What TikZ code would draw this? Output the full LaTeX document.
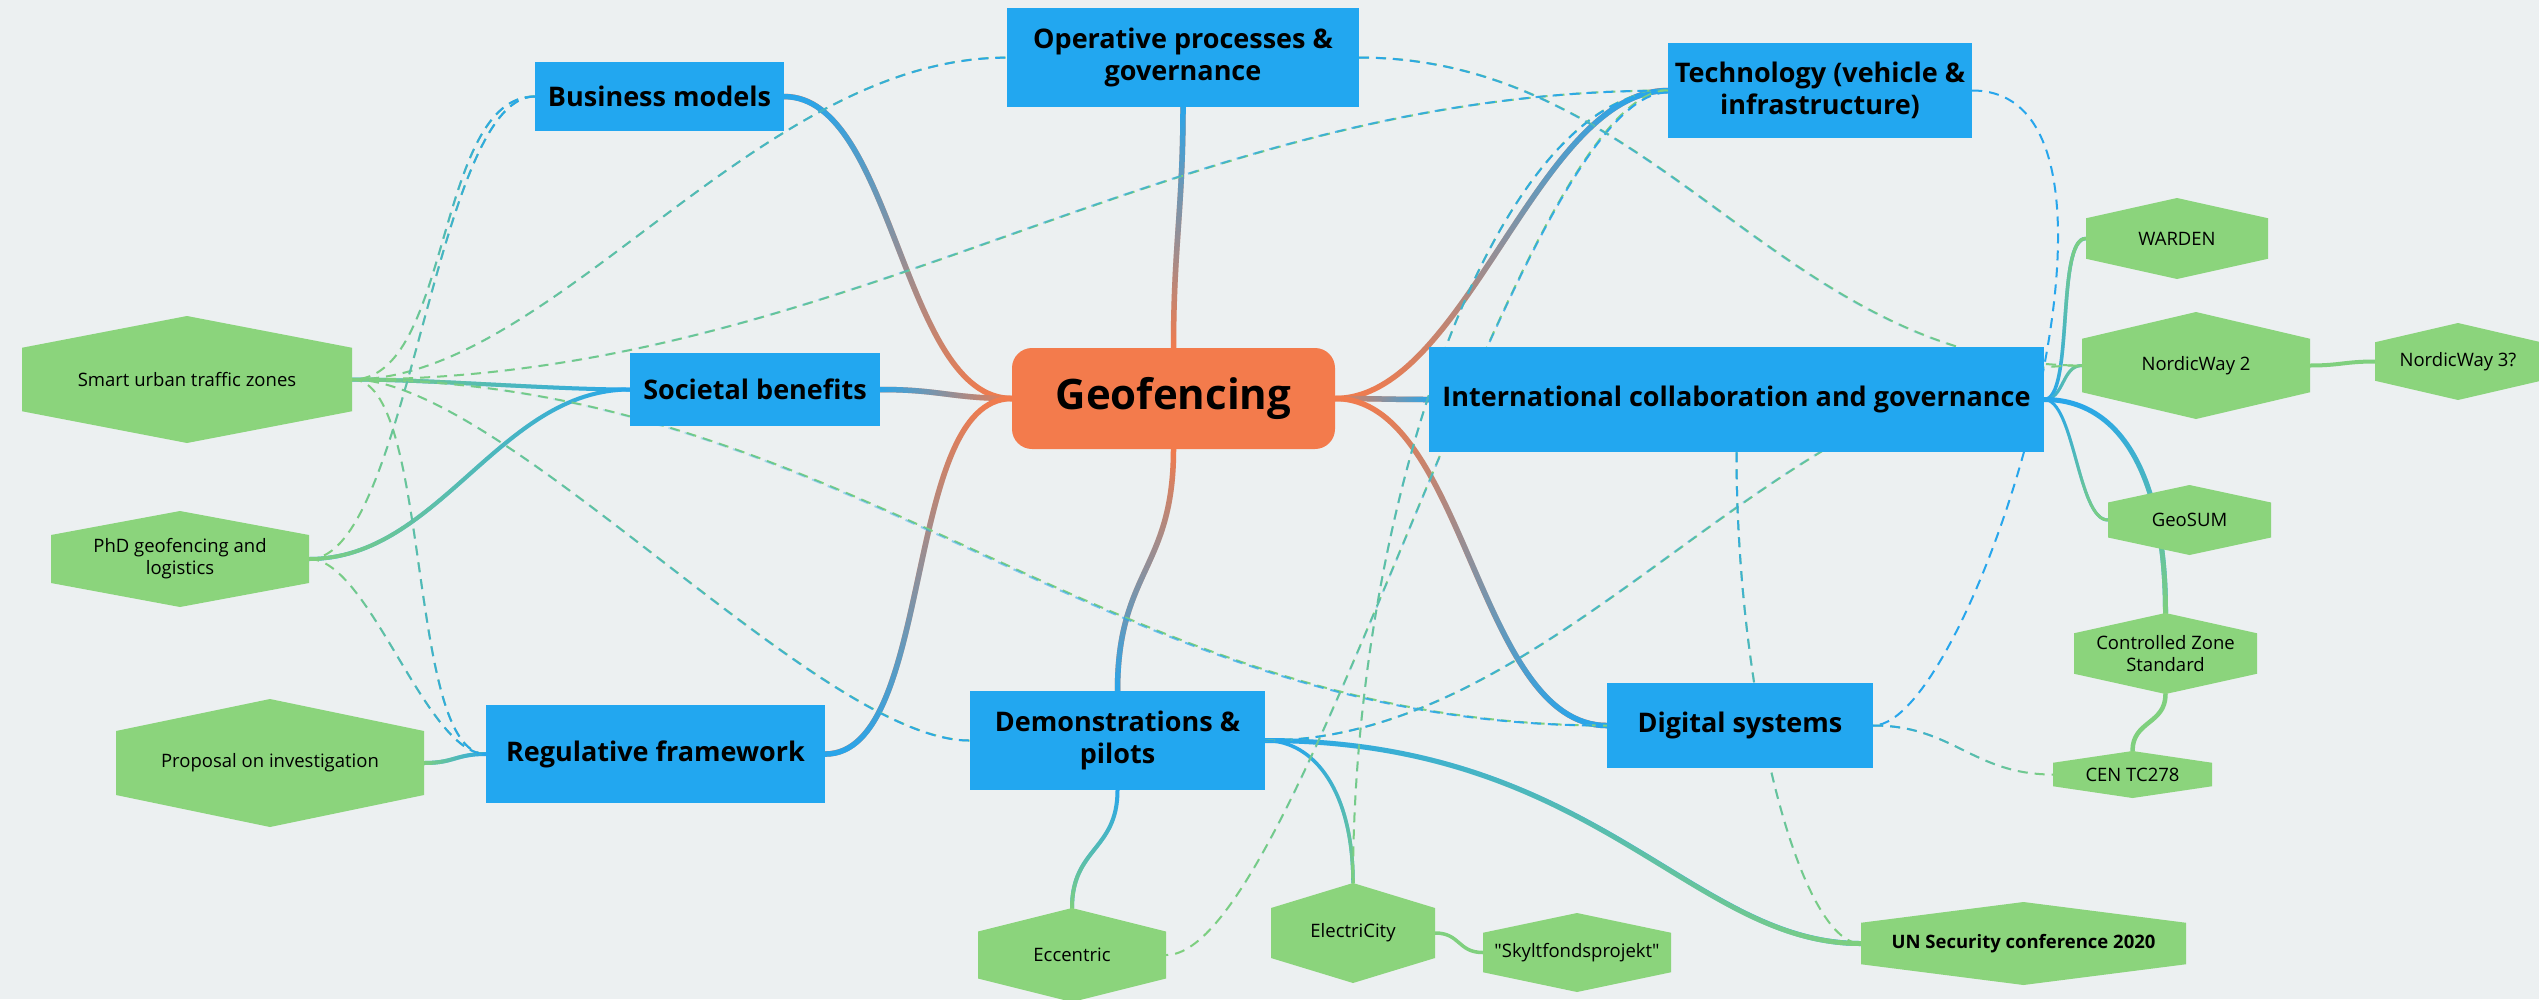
\documentclass[tikz,border=0pt]{standalone}
\usepackage{fontspec}
\setmainfont{Open Sans}
\usetikzlibrary{fadings}

\definecolor{bgc}{HTML}{ECF0F1}
\definecolor{topicblue}{HTML}{22A7F0}
\definecolor{rootorange}{HTML}{F37B4C}
\definecolor{hexgreen}{HTML}{8BD47C}
\definecolor{lineblue}{HTML}{27A6EC}
\definecolor{linegreen}{HTML}{7FD07E}

\tikzfading[name=fadeE, left color=transparent!100, right color=transparent!0]
\tikzfading[name=fadeW, left color=transparent!0, right color=transparent!100]
\tikzfading[name=fadeN, top color=transparent!0, bottom color=transparent!100]
\tikzfading[name=fadeS, top color=transparent!100, bottom color=transparent!0]

\pgfdeclarelayer{bg}
\pgfdeclarelayer{edges}
\pgfsetlayers{bg,edges,main}

\newcommand\rootfont{\bfseries\fontsize{42}{50}\selectfont}
\newcommand\topicfont{\bfseries\fontsize{27}{32}\selectfont}
\newcommand\hexfont{\fontsize{18.5}{22}\selectfont}

\tikzset{
  rootnode/.style={fill=rootorange, rounded corners=20pt, inner sep=0pt, align=center, font=\rootfont, text=black},
  topic/.style={fill=topicblue, inner sep=0pt, align=center, font=\topicfont, text=black},
  hexlabel/.style={inner sep=0pt, align=center, font=\hexfont, text=black},
  mainline/.style={line width=5.5pt, line cap=round},
  subline/.style={line width=#1, line cap=round},
  dlink/.style={line width=2pt, dash pattern=on 10pt off 7pt}
}

% gradient connector: options, base colour, overlay colour, fading, path
\newcommand\gradpath[5]{%
  \draw[#1,draw=#2] #5;
  \draw[#1,draw=#3,path fading=#4] #5;}

% hexagon node: name, cx, cy, width, height, text
\newcommand\hexnode[6]{%
  \fill[hexgreen] (#2,#3-#5/2) -- (#2+#4/2,#3-#5/4) -- (#2+#4/2,#3+#5/4) -- (#2,#3+#5/2)
     -- (#2-#4/2,#3+#5/4) -- (#2-#4/2,#3-#5/4) -- cycle;
  \node[hexlabel, minimum width=#4pt, minimum height=#5pt] (#1) at (#2,#3) {#6};}

\begin{document}
\begin{tikzpicture}[x=1pt,y=-1pt]
\begin{pgfonlayer}{bg}
\fill[bgc] (0,0) rectangle (2539,999);
\end{pgfonlayer}
\useasboundingbox (0,0) rectangle (2539,999);

% ---------- nodes ----------
\node[rootnode, minimum width=323pt, minimum height=101pt] (geo) at (1173.5,398.5) {Geofencing};

\node[topic, minimum width=352pt, minimum height=99pt] (op) at (1183,57.5) {Operative processes \&\\governance};
\node[topic, minimum width=249pt, minimum height=69pt] (bm) at (659.5,96.5) {Business models};
\node[topic, minimum width=304pt, minimum height=95pt] (tech) at (1820,90.5) {Technology (vehicle \&\\infrastructure)};
\node[topic, minimum width=250pt, minimum height=73pt] (soc) at (755,389.5) {Societal benefits};
\node[topic, minimum width=615pt, minimum height=105pt] (intl) at (1736.5,399.5) {International collaboration and governance};
\node[topic, minimum width=339pt, minimum height=98pt] (reg) at (655.5,754) {Regulative framework};
\node[topic, minimum width=295pt, minimum height=99pt] (demo) at (1117.5,740.5) {Demonstrations \&\\pilots};
\node[topic, minimum width=266pt, minimum height=85pt] (dig) at (1740,725.5) {Digital systems};

\hexnode{smart}{187}{379.5}{330}{127}{Smart urban traffic zones}
\hexnode{phd}{180}{559}{258}{96}{PhD geofencing and\\logistics}
\hexnode{prop}{270}{763}{308}{128}{Proposal on investigation}
\hexnode{ward}{2177}{238.5}{182}{81}{WARDEN}
\hexnode{nwtwo}{2196}{365.5}{228}{107}{NordicWay 2}
\hexnode{nwthree}{2458}{361.5}{166}{77}{NordicWay 3?}
\hexnode{gsum}{2189.5}{520}{163}{70}{GeoSUM}
\hexnode{czs}{2165.5}{653.5}{183}{81}{Controlled Zone\\Standard}
\hexnode{cen}{2132.5}{774.5}{159}{47}{CEN TC278}
\hexnode{ecc}{1072}{955}{188}{94}{Eccentric}
\hexnode{elec}{1353}{933}{164}{100}{ElectriCity}
\hexnode{skylt}{1577}{952.5}{188}{79}{\textquotedbl Skyltfondsprojekt\textquotedbl}
\hexnode{un}{2023.5}{943.5}{325}{83}{\bfseries UN Security conference 2020}

% ---------- connectors ----------
\begin{pgfonlayer}{edges}
% main branches
\gradpath{mainline}{rootorange}{lineblue}{fadeN}{(geo.north) .. controls +(0,-100) and +(0,100) .. (op.south)}
\gradpath{mainline}{rootorange}{lineblue}{fadeN}{(geo.west) .. controls +(-110,0) and +(110,0) .. (bm.east)}
\gradpath{mainline}{rootorange}{lineblue}{fadeW}{(geo.west) .. controls +(-60,0) and +(60,0) .. (soc.east)}
\gradpath{mainline}{rootorange}{lineblue}{fadeS}{(geo.west) .. controls +(-110,0) and +(110,0) .. (reg.east)}
\gradpath{mainline}{rootorange}{lineblue}{fadeS}{(geo.south) .. controls +(0,120) and +(0,-120) .. (demo.north)}
\gradpath{mainline}{rootorange}{lineblue}{fadeN}{(geo.east) .. controls +(130,0) and +(-130,0) .. (tech.west)}
\gradpath{mainline}{rootorange}{lineblue}{fadeE}{(geo.east) .. controls +(40,0) and +(-40,0) .. (intl.west)}
\gradpath{mainline}{rootorange}{lineblue}{fadeS}{(geo.east) .. controls +(130,0) and +(-130,0) .. (dig.west)}

% sub branches
\gradpath{subline=4pt}{lineblue}{linegreen}{fadeW}{(soc.west) .. controls +(-80,0) and +(80,0) .. (smart.east)}
\gradpath{subline=4pt}{lineblue}{linegreen}{fadeW}{(soc.west) .. controls +(-130,0) and +(130,0) .. (phd.east)}
\gradpath{subline=4pt}{lineblue}{linegreen}{fadeW}{(reg.west) .. controls +(-30,0) and +(30,0) .. (prop.east)}
\gradpath{subline=4pt}{lineblue}{linegreen}{fadeS}{(demo.south) .. controls +(0,60) and +(0,-60) .. (ecc.north)}
\gradpath{subline=3.5pt}{lineblue}{linegreen}{fadeS}{(demo.east) .. controls +(50,0) and +(0,-90) .. (elec.north)}
\gradpath{subline=5pt}{lineblue}{linegreen}{fadeE}{(demo.east) .. controls +(330,0) and +(-170,0) .. (un.west)}
\draw[subline=3.5pt, draw=linegreen] (elec.east) .. controls +(25,0) and +(-25,0) .. (skylt.west);
\gradpath{subline=3.5pt}{lineblue}{linegreen}{fadeN}{(intl.east) .. controls +(30,0) and +(-30,0) .. (ward.west)}
\gradpath{subline=3pt}{lineblue}{linegreen}{fadeE}{(intl.east) .. controls +(20,0) and +(-20,0) .. (nwtwo.west)}
\gradpath{subline=3pt}{lineblue}{linegreen}{fadeS}{(intl.east) .. controls +(30,0) and +(-30,0) .. (gsum.west)}
\gradpath{subline=5pt}{lineblue}{linegreen}{fadeS}{(intl.east) .. controls +(80,0) and +(0,-130) .. (czs.north)}
\draw[subline=4pt, draw=linegreen] (nwtwo.east) .. controls +(30,0) and +(-30,0) .. (nwthree.west);
\draw[subline=4.5pt, draw=linegreen] (czs.south) .. controls +(0,30) and +(0,-30) .. (cen.north);

% dashed cross links
\gradpath{dlink}{linegreen}{lineblue}{fadeE}{(smart.east) .. controls +(200,0) and +(-250,0) .. (op.west)}
\gradpath{dlink}{linegreen}{lineblue}{fadeE}{(smart.east) .. controls +(500,0) and +(-500,0) .. (tech.west)}
\gradpath{dlink}{linegreen}{lineblue}{fadeE}{(smart.east) .. controls +(500,0) and +(-500,0) .. (dig.west)}
\gradpath{dlink}{linegreen}{lineblue}{fadeE}{(smart.east) .. controls +(150,0) and +(-150,0) .. (demo.west)}
\gradpath{dlink}{linegreen}{lineblue}{fadeS}{(smart.east) .. controls +(80,0) and +(-80,0) .. (reg.west)}
\gradpath{dlink}{linegreen}{lineblue}{fadeN}{(bm.west) .. controls +(-100,0) and +(100,0) .. (smart.east)}
\gradpath{dlink}{linegreen}{lineblue}{fadeN}{(bm.west) .. controls +(-100,0) and +(100,0) .. (phd.east)}
\gradpath{dlink}{linegreen}{lineblue}{fadeS}{(phd.east) .. controls +(60,0) and +(-60,0) .. (reg.west)}
\gradpath{dlink}{linegreen}{lineblue}{fadeN}{(tech.west) .. controls +(-168,0) and +(0,-383) .. (elec.north)}
\gradpath{dlink}{linegreen}{lineblue}{fadeN}{(tech.west) .. controls +(-148,0) and +(134,0) .. (ecc.east)}
\gradpath{dlink}{linegreen}{lineblue}{fadeW}{(demo.east) .. controls +(300,0) and +(-300,0) .. (nwtwo.west)}
\gradpath{dlink}{linegreen}{lineblue}{fadeW}{(op.east) .. controls +(300,0) and +(-300,0) .. (nwtwo.west)}
\draw[dlink, draw=lineblue] (tech.east) .. controls +(200,0) and +(100,0) .. (dig.east);
\gradpath{dlink}{linegreen}{lineblue}{fadeN}{(intl.south) .. controls +(0,250) and +(-60,0) .. (un.west)}
\gradpath{dlink}{linegreen}{lineblue}{fadeW}{(dig.east) .. controls +(80,0) and +(-80,0) .. (cen.west)}
\end{pgfonlayer}
\end{tikzpicture}
\end{document}
